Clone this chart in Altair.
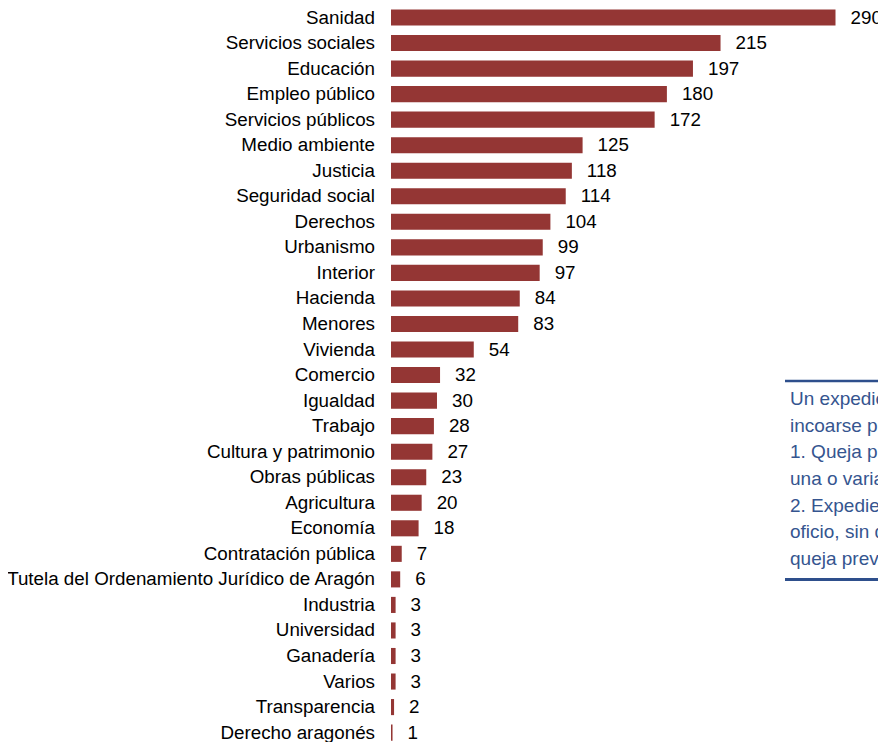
import altair as alt
import pandas as pd

categories = [
    "Sanidad", "Servicios sociales", "Educación", "Empleo público", "Servicios públicos",
    "Medio ambiente", "Justicia", "Seguridad social", "Derechos", "Urbanismo", "Interior",
    "Hacienda", "Menores", "Vivienda", "Comercio", "Igualdad", "Trabajo",
    "Cultura y patrimonio", "Obras públicas", "Agricultura", "Economía",
    "Contratación pública", "Tutela del Ordenamiento Jurídico de Aragón", "Industria",
    "Universidad", "Ganadería", "Varios", "Transparencia", "Derecho aragonés",
]
values = [290, 215, 197, 180, 172, 125, 118, 114, 104, 99, 97, 84, 83, 54, 32, 30, 28,
          27, 23, 20, 18, 7, 6, 3, 3, 3, 3, 2, 1]

box_lines = [
    "Un expediente puede",
    "incoarse por dos vías:",
    "1. Queja presentada por",
    "una o varias personas.",
    "2. Expediente de",
    "oficio, sin que exista",
    "queja previa.",
]
cut_title = "año 2023:"

df = pd.DataFrame({"cat": categories, "val": values})
box_df = pd.DataFrame({"line": box_lines, "i": list(range(len(box_lines)))})

FONT = "Liberation Sans"
FS = 18.8
BAR = "#943634"
BLUE = "#35558F"

n = len(categories)
step = 25.54
c0 = 9.5
yscale = alt.Scale(domain=categories, range=[c0 - step / 2, c0 - step / 2 + n * step],
                   paddingInner=0.37, paddingOuter=0.185)
xscale = alt.Scale(domain=[0, 290], range=[383, 827.5], zero=True, nice=False)

base = alt.Chart(df)

bars = base.mark_bar(color=BAR).encode(
    x=alt.X("val:Q", scale=xscale, axis=None),
    y=alt.Y("cat:N", scale=yscale, sort=None, axis=None),
)

cat_labels = base.mark_text(align="right", baseline="middle", font=FONT, fontSize=FS,
                            color="#000000").encode(
    x=alt.value(367),
    y=alt.Y("cat:N", scale=yscale, sort=None, axis=None),
    text="cat:N",
)

val_labels = base.mark_text(align="left", baseline="middle", dx=15, font=FONT, fontSize=FS,
                            color="#000000").encode(
    x=alt.X("val:Q", scale=xscale, axis=None),
    y=alt.Y("cat:N", scale=yscale, sort=None, axis=None),
    text="val:Q",
)

one = alt.Chart(pd.DataFrame({"a": [0]}))
top_rule = one.mark_rule(color="#2E4F8C", strokeWidth=2.5).encode(
    x=alt.value(777), x2=alt.value(870), y=alt.value(373))
bottom_rule = one.mark_rule(color="#2E4F8C", strokeWidth=3).encode(
    x=alt.value(777), x2=alt.value(870), y=alt.value(571.5))

box_text = alt.Chart(box_df).mark_text(align="left", baseline="alphabetic", font=FONT,
                                       fontSize=19, color=BLUE).encode(
    x=alt.value(782),
    y=alt.Y("i:Q", scale=alt.Scale(domain=[0, 6], range=[397, 557]), axis=None),
    text="line:N",
)

title_cut = one.mark_text(align="right", baseline="alphabetic", font=FONT, fontSize=22,
                          color="#000000").encode(
    x=alt.value(97), y=alt.value(-6), text=alt.value(cut_title))

chart = alt.layer(bars, cat_labels, val_labels, top_rule, bottom_rule, box_text, title_cut).resolve_scale(
    y="independent", x="independent"
).properties(
    width=870, height=734,
    autosize=alt.AutoSizeParams(type="none"),
    padding=0,
).configure_view(stroke=None)

chart.save("out.html", embed_options={"renderer": "svg", "actions": False})
